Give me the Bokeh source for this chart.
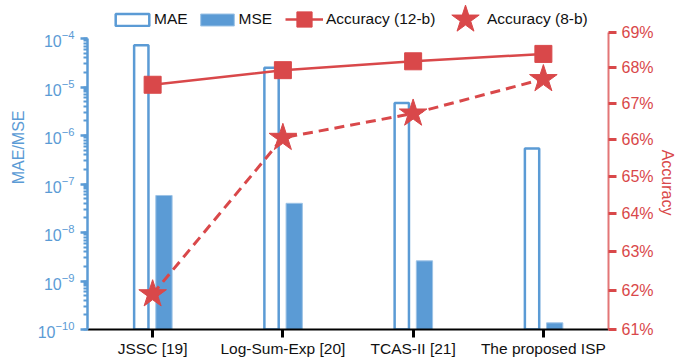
from bokeh.plotting import figure
from bokeh.models import (ColumnDataSource, Range1d, LinearAxis, FactorRange,
                          FixedTicker, PrintfTickFormatter, Legend, LegendItem, LogTicker)
from bokeh.transform import dodge
from bokeh.embed import file_html
from bokeh.resources import INLINE

# ---- data ----
categories = ["JSSC [19]", "Log-Sum-Exp [20]", "TCAS-II [21]", "The proposed ISP"]
mae = [7.3e-5, 2.5e-5, 4.7e-6, 5.4e-7]
mse = [5.8e-8, 4.0e-8, 2.6e-9, 1.37e-10]
acc12 = [67.52, 67.93, 68.18, 68.39]
acc8 = [61.90, 66.05, 66.72, 67.68]
log_floor = 1e-10
log_top = 1e-4
acc_ticks = [61, 62, 63, 64, 65, 66, 67, 68, 69]

BLUE = "#5b9bd5"
RED = "#d9484a"
FONT = "Liberation Sans"

# ---- layout (screen pixels) ----
W, H = 678, 360
BL, BR, BT, BB = 87, 70, 0, 31
HF = H - BT - BB                 # frame height; the top strip of the frame holds the legend
AXIS_TOP = 34                    # where 69 % sits, px below the frame top
LOG_TOP_PX = 38                  # where 1e-4 sits
px_per_pct = (HF - AXIS_TOP) / (acc_ticks[-1] - acc_ticks[0])
px_per_dec = (HF - LOG_TOP_PX) / 6.0
acc_end = acc_ticks[0] + HF / px_per_pct
log_end = 10 ** (-10 + HF / px_per_dec)

src = ColumnDataSource(dict(cat=categories, mae=mae, mse=mse, acc12=acc12, acc8=acc8))

p = figure(width=W, height=H, x_range=FactorRange(factors=categories),
           y_axis_type="log", y_range=Range1d(log_floor, log_end),
           output_backend="svg", toolbar_location=None,
           min_border_left=BL, min_border_right=BR, min_border_top=BT, min_border_bottom=BB)
p.extra_y_ranges = {"acc": Range1d(acc_ticks[0], acc_end)}
p.outline_line_color = None
p.xgrid.visible = False
p.ygrid.visible = False

r_mae = p.vbar(x=dodge("cat", -0.087, range=p.x_range), top="mae", bottom=log_floor, width=0.11,
               source=src, fill_color="white", line_color=BLUE, line_width=2.5)
r_mse = p.vbar(x=dodge("cat", 0.087, range=p.x_range), top="mse", bottom=log_floor, width=0.125,
               source=src, fill_color=BLUE, line_color="#9dc3e6", line_width=1)

l12 = p.line(x="cat", y="acc12", source=src, y_range_name="acc", line_color=RED, line_width=2.5)
s12 = p.scatter(x="cat", y="acc12", source=src, y_range_name="acc", marker="square", size=17,
                fill_color=RED, line_color=RED)
l8 = p.line(x="cat", y="acc8", source=src, y_range_name="acc", line_color=RED, line_width=3,
            line_dash="10 6")
s8 = p.scatter(x="cat", y="acc8", source=src, y_range_name="acc", marker="star", size=29,
               fill_color=RED, line_color=RED)

# left log axis
ya = p.yaxis[0]
ya.ticker = LogTicker(desired_num_ticks=7, num_minor_ticks=10)
ya.bounds = (log_floor, log_top)
ya.axis_line_color = BLUE
ya.axis_line_width = 2.5
ya.major_tick_line_color = BLUE
ya.major_tick_line_width = 2.5
ya.major_tick_out = 7
ya.major_tick_in = 0
ya.minor_tick_line_color = BLUE
ya.minor_tick_line_width = 2
ya.minor_tick_out = 4
ya.minor_tick_in = 0
ya.major_label_text_color = BLUE
ya.major_label_text_font = FONT
ya.major_label_text_font_size = "16px"
ya.major_label_standoff = 6
# leading em spaces move the label so it centres on the drawn axis, not on the whole frame
ya.axis_label = "\u2003\u2003\u2009MAE/MSE"
ya.axis_label_text_color = BLUE
ya.axis_label_text_font = FONT
ya.axis_label_text_font_size = "16px"
ya.axis_label_text_font_style = "normal"
ya.axis_label_standoff = 8

# right accuracy axis
ra = LinearAxis(y_range_name="acc", ticker=FixedTicker(ticks=acc_ticks),
                formatter=PrintfTickFormatter(format="%d%%"),
                bounds=(acc_ticks[0], acc_ticks[-1]))
ra.axis_line_color = RED
ra.axis_line_alpha = 0.75
ra.axis_line_width = 2
ra.major_tick_line_color = RED
ra.major_tick_line_width = 3
ra.major_tick_out = 8
ra.major_tick_in = 0
ra.minor_tick_line_color = None
ra.major_label_text_color = RED
ra.major_label_text_font = FONT
ra.major_label_text_font_size = "16px"
ra.major_label_standoff = 5
ra.axis_label = "\u2003\u2003\u2009Accuracy"
ra.axis_label_text_color = RED
ra.axis_label_text_font = FONT
ra.axis_label_text_font_size = "16px"
ra.axis_label_text_font_style = "normal"
ra.axis_label_standoff = 2
p.add_layout(ra, "right")

# bottom categorical axis
xa = p.xaxis[0]
xa.axis_line_color = "black"
xa.axis_line_width = 1.8
xa.major_tick_line_color = "black"
xa.major_tick_line_width = 3
xa.major_tick_out = 8
xa.major_tick_in = 0
xa.minor_tick_line_color = None
xa.major_label_text_color = "#111111"
xa.major_label_text_font = FONT
xa.major_label_text_font_size = "15.5px"
xa.major_label_standoff = 2

LEG_CY = 19  # legend row centre, px below the frame top

def make_legend(items, x, gw, gh, standoff, row_h):
    lg = Legend(items=items, orientation="horizontal", location=(x, HF - LEG_CY - row_h / 2),
                glyph_width=gw, glyph_height=gh, label_standoff=standoff, spacing=8,
                padding=0, margin=0, background_fill_alpha=0, border_line_color=None,
                label_text_font=FONT, label_text_font_size="15.5px", label_height=15,
                label_text_color="#111111")
    p.add_layout(lg, "center")
    return lg

make_legend([LegendItem(label="MAE", renderers=[r_mae]), LegendItem(label="MSE", renderers=[r_mse])],
            24, 42, 15, 1, 18)
make_legend([LegendItem(label="Accuracy (12-b)", renderers=[l12, s12])], 198, 38, 42, 3, 42)
# large star swatch, and its label set right beside it
make_legend([LegendItem(label="", renderers=[s8])], 342, 72, 72, 0, 72)
make_legend([LegendItem(label="Accuracy (8-b)", renderers=[l8])], 400, 0, 15, 0, 18)

open("out.html", "w").write(file_html(p, INLINE))
